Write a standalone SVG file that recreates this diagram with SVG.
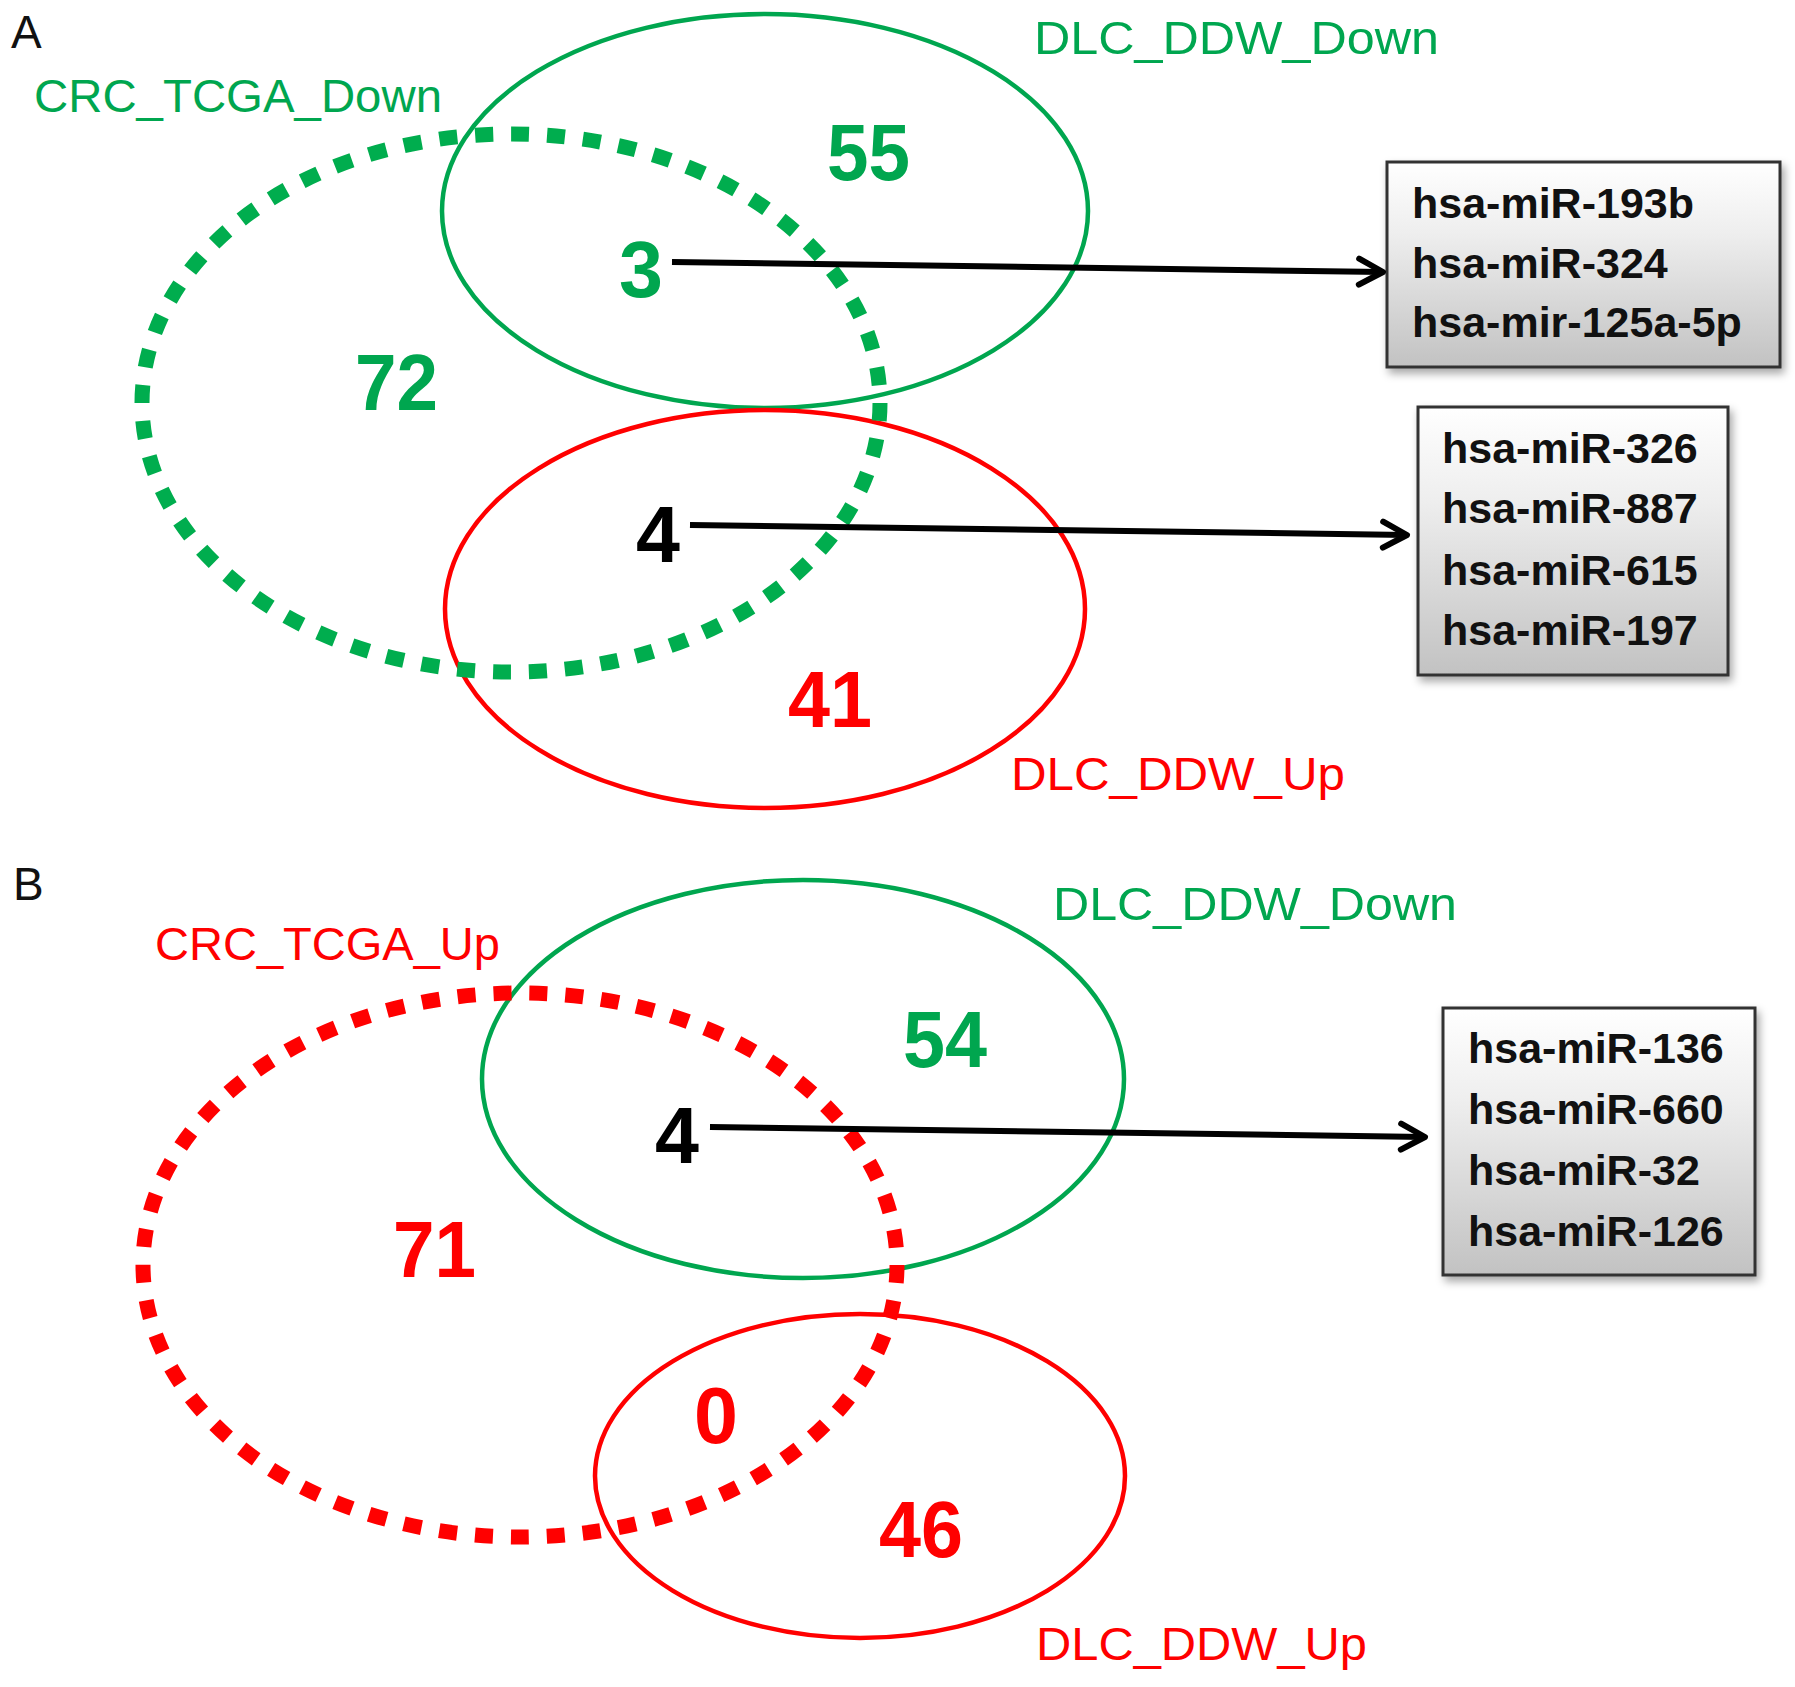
<svg xmlns="http://www.w3.org/2000/svg" width="1795" height="1687" viewBox="0 0 1795 1687">
<defs>
<style>
.lbl{font-family:"Liberation Sans",Arial,sans-serif;font-size:46px;}
.num{font-family:"Liberation Sans",Arial,sans-serif;font-size:79px;font-weight:bold;}
.mir{font-family:"Liberation Sans",Arial,sans-serif;font-size:43px;font-weight:bold;fill:#111;}
.panel{font-family:"Liberation Sans",Arial,sans-serif;font-size:46px;fill:#111;}
.g{fill:#00A64F;}
.r{fill:#FF0000;}
.k{fill:#000;}
.gsolid{fill:none;stroke:#00A64F;stroke-width:4.5;}
.rsolid{fill:none;stroke:#FF0000;stroke-width:4.5;}
.gdash{fill:none;stroke:#00AD4E;stroke-width:15;stroke-dasharray:18 18;}
.rdash{fill:none;stroke:#FF0000;stroke-width:15;stroke-dasharray:18 18;}
.box{fill:url(#grad);stroke:#333;stroke-width:3;filter:url(#sh);}
.conn{fill:none;stroke:#000;stroke-width:6;marker-end:url(#arr);}
</style>
<linearGradient id="grad" x1="0" y1="0" x2="0" y2="1">
<stop offset="0" stop-color="#ffffff"/>
<stop offset="0.35" stop-color="#eeeeee"/>
<stop offset="1" stop-color="#c2c2c2"/>
</linearGradient>
<filter id="sh" x="-10%" y="-10%" width="130%" height="130%">
<feDropShadow dx="3" dy="5" stdDeviation="4" flood-color="#000" flood-opacity="0.35"/>
</filter>
<marker id="arr" markerUnits="userSpaceOnUse" viewBox="-30 -16 34 32" refX="0" refY="0" markerWidth="34" markerHeight="32" orient="auto" overflow="visible">
<path d="M-24,-13 L0,0 L-24,13" fill="none" stroke="#000" stroke-width="6" stroke-linecap="round" stroke-linejoin="round"/>
</marker>
</defs>
<rect width="1795" height="1687" fill="#fff"/>

<!-- Panel A -->
<g id="panelA-label"><text class="panel" x="11" y="48">A</text></g>
<g id="A-DLC_DDW_Down">
<ellipse class="gsolid" cx="765" cy="211" rx="323" ry="197"/>
<text class="lbl g" x="1034" y="54" textLength="405" lengthAdjust="spacingAndGlyphs">DLC_DDW_Down</text>
</g>
<g id="A-DLC_DDW_Up">
<ellipse class="rsolid" cx="765" cy="609" rx="320" ry="199"/>
<text class="lbl r" x="1011" y="790" textLength="334" lengthAdjust="spacingAndGlyphs">DLC_DDW_Up</text>
</g>
<g id="A-CRC_TCGA_Down">
<ellipse class="gdash" cx="511" cy="403" rx="369" ry="269"/>
<text class="lbl g" x="34" y="112" textLength="408" lengthAdjust="spacingAndGlyphs">CRC_TCGA_Down</text>
</g>
<g id="A-counts">
<text class="num g" x="827" y="180" textLength="83" lengthAdjust="spacingAndGlyphs">55</text>
<text class="num g" x="619" y="297">3</text>
<text class="num g" x="355" y="410" textLength="83" lengthAdjust="spacingAndGlyphs">72</text>
<text class="num k" x="636" y="562">4</text>
<text class="num r" x="788" y="727" textLength="84" lengthAdjust="spacingAndGlyphs">41</text>
</g>
<g id="A-box1">
<rect class="box" x="1387" y="162" width="393" height="205"/>
<text class="mir" x="1412" y="218">hsa-miR-193b</text>
<text class="mir" x="1412" y="278">hsa-miR-324</text>
<text class="mir" x="1412" y="337">hsa-mir-125a-5p</text>
</g>
<g id="A-box2">
<rect class="box" x="1418" y="407" width="310" height="268"/>
<text class="mir" x="1442" y="463">hsa-miR-326</text>
<text class="mir" x="1442" y="523">hsa-miR-887</text>
<text class="mir" x="1442" y="585">hsa-miR-615</text>
<text class="mir" x="1442" y="645">hsa-miR-197</text>
</g>

<!-- Panel B -->
<g id="panelB-label"><text class="panel" x="13" y="900">B</text></g>
<g id="B-DLC_DDW_Down">
<ellipse class="gsolid" cx="803" cy="1079" rx="321" ry="199"/>
<text class="lbl g" x="1053" y="920" textLength="404" lengthAdjust="spacingAndGlyphs">DLC_DDW_Down</text>
</g>
<g id="B-DLC_DDW_Up">
<ellipse class="rsolid" cx="860" cy="1476" rx="265" ry="162"/>
<text class="lbl r" x="1036" y="1660" textLength="331" lengthAdjust="spacingAndGlyphs">DLC_DDW_Up</text>
</g>
<g id="B-CRC_TCGA_Up">
<ellipse class="rdash" cx="520" cy="1265" rx="377" ry="272"/>
<text class="lbl r" x="155" y="960" textLength="345" lengthAdjust="spacingAndGlyphs">CRC_TCGA_Up</text>
</g>
<g id="B-counts">
<text class="num g" x="903" y="1067" textLength="84" lengthAdjust="spacingAndGlyphs">54</text>
<text class="num k" x="655" y="1163">4</text>
<text class="num r" x="393" y="1277" textLength="83" lengthAdjust="spacingAndGlyphs">71</text>
<text class="num r" x="694" y="1443">0</text>
<text class="num r" x="879" y="1557" textLength="84" lengthAdjust="spacingAndGlyphs">46</text>
</g>
<g id="B-box">
<rect class="box" x="1443" y="1008" width="312" height="267"/>
<text class="mir" x="1468" y="1063">hsa-miR-136</text>
<text class="mir" x="1468" y="1124">hsa-miR-660</text>
<text class="mir" x="1468" y="1185">hsa-miR-32</text>
<text class="mir" x="1468" y="1246">hsa-miR-126</text>
</g>

<g id="connectors">
<path class="conn" d="M672,262 L1383,272"/>
<path class="conn" d="M690,525 L1407,535"/>
<path class="conn" d="M710,1127 L1425,1137"/>
</g>
</svg>
